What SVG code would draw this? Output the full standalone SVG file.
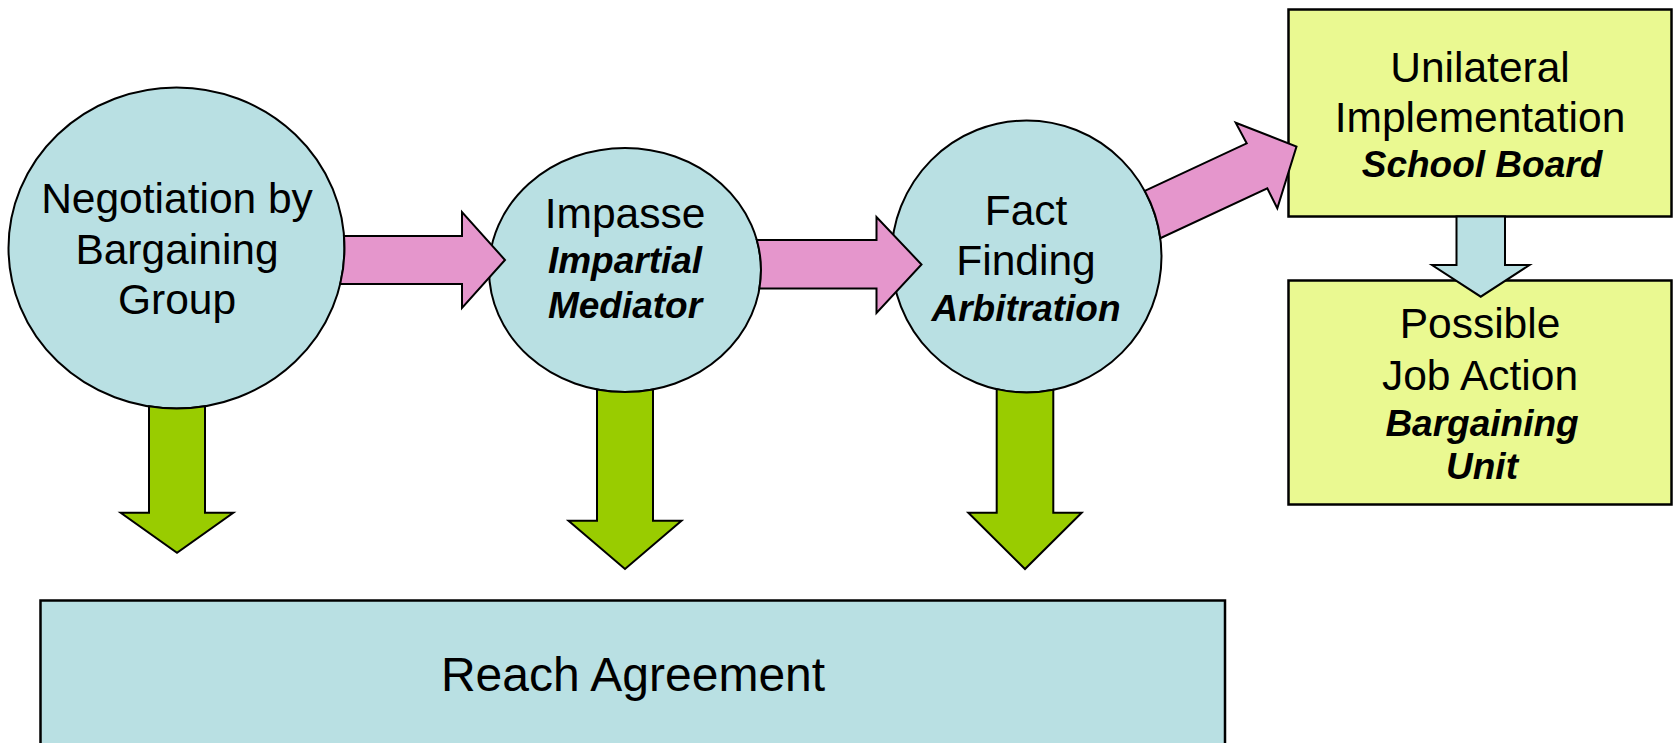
<svg xmlns="http://www.w3.org/2000/svg" width="1673" height="743" viewBox="0 0 1673 743">
<style>
.node{fill:#B9E0E3;stroke:#000;stroke-width:2}
.box{fill:#EAF991;stroke:#000;stroke-width:2.5}
.bigbox{fill:#B9E0E3;stroke:#000;stroke-width:2.5}
.t{font-family:"Liberation Sans",Arial,sans-serif;font-size:42.5px;fill:#000;text-anchor:middle}
.bi{font-family:"Liberation Sans",Arial,sans-serif;font-size:37px;font-weight:bold;font-style:italic;fill:#000;text-anchor:middle}
.big{font-family:"Liberation Sans",Arial,sans-serif;font-size:48px;fill:#000;text-anchor:middle}
.pink{fill:#E596CC;stroke:#000;stroke-width:2;stroke-linejoin:miter}
.green{fill:#99CC00;stroke:#000;stroke-width:2;stroke-linejoin:miter}
.blue{fill:#B9E0E3;stroke:#000;stroke-width:2;stroke-linejoin:miter}
</style>
<rect width="1673" height="743" fill="#fff"/>
<g id="negotiation">
<ellipse class="node" cx="176.5" cy="248" rx="168" ry="160.5"/>
<text class="t" x="177" y="213">Negotiation by</text>
<text class="t" x="177" y="264">Bargaining</text>
<text class="t" x="177" y="314">Group</text>
</g>
<g id="impasse">
<ellipse class="node" cx="625" cy="270" rx="136" ry="122"/>
<text class="t" x="625" y="228">Impasse</text>
<text class="bi" x="625" y="273">Impartial</text>
<text class="bi" x="625" y="318">Mediator</text>
</g>
<g id="factfinding">
<ellipse class="node" cx="1026.5" cy="256.5" rx="135" ry="136"/>
<text class="t" x="1026" y="225">Fact</text>
<text class="t" x="1026" y="275">Finding</text>
<text class="bi" x="1026" y="321">Arbitration</text>
</g>
<g id="reach">
<rect class="bigbox" x="40.5" y="600.5" width="1184.5" height="170"/>
<text class="big" x="633" y="691">Reach Agreement</text>
</g>
<g id="unilateral">
<rect class="box" x="1288.5" y="9.5" width="383" height="207"/>
<text class="t" x="1480" y="82">Unilateral</text>
<text class="t" x="1480" y="132">Implementation</text>
<text class="bi" x="1482" y="177">School Board</text>
</g>
<g id="jobaction">
<rect class="box" x="1288.5" y="280.5" width="383" height="224"/>
<text class="t" x="1480" y="338">Possible</text>
<text class="t" x="1480" y="390">Job Action</text>
<text class="bi" x="1482" y="436">Bargaining</text>
<text class="bi" x="1482" y="479">Unit</text>
</g>
<g id="connectors">
<path class="pink" d="M344 236 L462 236 L462 212 L505 260 L462 308 L462 284 L340.2 284 A168 160.5 0 0 0 344 236 Z"/>
<path class="pink" d="M756.8 240 L876.5 240 L876.5 217 L921.5 264.5 L876.5 313 L876.5 288.5 L759.4 288.5 A136 122 0 0 0 756.8 240 Z"/>
<path class="pink" d="M1144.8 190.9 L1246.7 143.3 L1235.7 122.7 L1296.5 146.5 L1277.3 208.3 L1267.3 188.3 L1160.3 238.2 A135 136 0 0 0 1144.8 190.9 Z"/>
<path class="green" d="M149 406.3 L149 512.7 L120.7 512.7 L177 552.7 L233.3 512.7 L205 512.7 L205 406.2 A168 160.5 0 0 1 149 406.3 Z"/>
<path class="green" d="M597 389.4 L597 520.7 L568.5 520.7 L625 569 L681.5 520.7 L653 520.7 L653 389.4 A136 122 0 0 1 597 389.4 Z"/>
<path class="green" d="M996.7 389.1 L996.7 512.7 L968.3 512.7 L1025 569 L1081.7 512.7 L1053.3 512.7 L1053.3 389.8 A135 136 0 0 1 996.7 389.1 Z"/>
<path class="blue" d="M1456.5 216.5 L1456.5 265 L1432 265 L1480.75 296.7 L1529.5 265 L1505 265 L1505 216.5 Z"/>
</g>
</svg>
